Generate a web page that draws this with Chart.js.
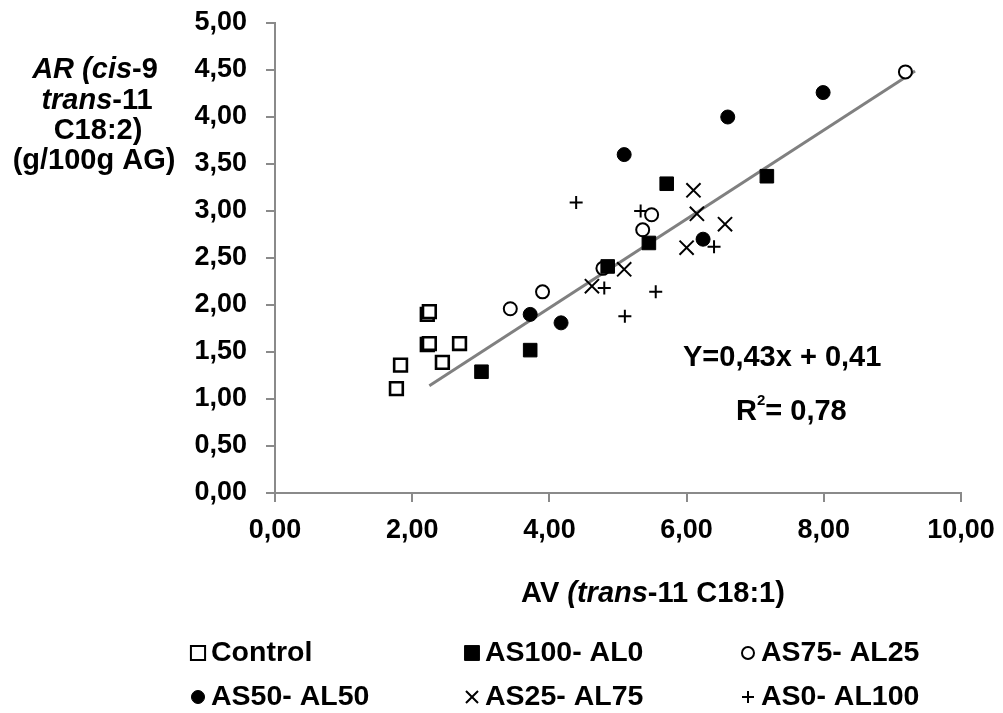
<!DOCTYPE html>
<html>
<head>
<meta charset="utf-8">
<script src="https://cdn.jsdelivr.net/npm/chart.js@4.4.0/dist/chart.umd.min.js"></script>
<style>
  body { margin: 0; background: #fff; }
  #wrap { width: 1003px; height: 713px; }
</style>
</head>
<body>
<div id="wrap"><canvas id="chart"></canvas></div>
<script>
// series (x = AV, y = AR)
const controlX = [1.77, 1.83, 2.22, 2.25, 2.22, 2.25, 2.44, 2.69];
const controlY = [1.11, 1.36, 1.90, 1.93, 1.58, 1.59, 1.39, 1.59];
const as100X = [3.01, 3.72, 4.85, 5.45, 5.71, 7.17];
const as100Y = [1.29, 1.52, 2.41, 2.66, 3.29, 3.37];
const as75X = [3.43, 3.90, 4.78, 5.36, 5.49, 9.19];
const as75Y = [1.96, 2.14, 2.39, 2.80, 2.96, 4.48];
const as50X = [3.72, 4.17, 5.09, 6.24, 6.60, 7.99];
const as50Y = [1.90, 1.81, 3.60, 2.70, 4.00, 4.26];
const as25X = [4.62, 5.09, 6.00, 6.10, 6.15, 6.56];
const as25Y = [2.20, 2.38, 2.61, 3.22, 2.97, 2.86];
const as0X = [4.39, 4.80, 5.10, 5.33, 5.55, 6.40];
const as0Y = [3.09, 2.18, 1.88, 3.00, 2.14, 2.62];
// trend line ends as drawn
const trendX = [2.25, 9.33];
const trendY = [1.14, 4.49];

const seriesLabels = ['Control', 'AS100- AL0', 'AS75- AL25', 'AS50- AL50', 'AS25- AL75', 'AS0- AL100'];
const xTicks = [0, 2, 4, 6, 8, 10];

const FONT = '"Liberation Sans", Arial, sans-serif';
const AXIS_GREY = '#8a8a8a';

function pts(xs, ys) {
    return xs.map((x, i) => ({ x: x, y: ys[i] }));
}

function fmt(v) {
    return Number(v).toFixed(2).replace('.', ',');
}

// draws text made of pieces with different fonts, centred on cx
function richText(ctx, parts, cx, cy) {
    let total = 0;
    parts.forEach(p => { ctx.font = p.font; total += ctx.measureText(p.text).width; });
    let x = cx - total / 2;
    ctx.textBaseline = 'middle';
    ctx.textAlign = 'left';
    parts.forEach(p => {
        ctx.font = p.font;
        ctx.fillText(p.text, x, cy);
        x += ctx.measureText(p.text).width;
    });
}

const B = 'bold 29px ' + FONT;
const BI = 'italic bold 29px ' + FONT;

const extras = {
    id: 'extras',
    afterDraw(chart) {
        const ctx = chart.ctx;
        ctx.save();
        ctx.fillStyle = '#000';

        // y title
        richText(ctx, [{ text: 'AR (cis', font: BI }, { text: '-9', font: B }], 95, 70);
        richText(ctx, [{ text: 'trans', font: BI }, { text: '-11', font: B }], 97, 101);
        richText(ctx, [{ text: 'C18:2)', font: B }], 98, 131);
        richText(ctx, [{ text: '(g/100g AG)', font: B }], 94, 161);

        // x title
        richText(ctx, [
            { text: 'AV ', font: B },
            { text: '(trans', font: BI },
            { text: '-11 C18:1)', font: B }
        ], 653, 594);

        // equation
        ctx.font = 'bold 29px ' + FONT;
        ctx.textAlign = 'left';
        ctx.textBaseline = 'middle';
        ctx.fillText('Y=0,43x + 0,41', 683, 358);
        ctx.fillText('R', 736, 412);
        const rw = ctx.measureText('R').width;
        ctx.font = 'bold 15px ' + FONT;
        ctx.fillText('2', 736 + rw, 401);
        const sw = ctx.measureText('2').width;
        ctx.font = 'bold 29px ' + FONT;
        ctx.fillText('= 0,78', 736 + rw + sw, 412);

        // legend, 3 columns x 2 rows
        const colX = [211, 485, 761];
        const rowY = [653, 697];
        chart.data.datasets.forEach((ds, i) => {
            if (ds.type === 'line') return;
            const tx = colX[i % 3];
            const ty = rowY[Math.floor(i / 3)];
            const style = {
                pointStyle: ds.pointStyle,
                radius: ds.legendRadius,
                borderWidth: ds.borderWidth > 2 ? 2 : ds.borderWidth,
                rotation: 0
            };
            ctx.fillStyle = ds.backgroundColor;
            ctx.strokeStyle = ds.borderColor;
            ctx.lineWidth = style.borderWidth;
            Chart.helpers.drawPoint(ctx, style, tx - 13, ty);
            ctx.fillStyle = '#000';
            ctx.font = 'bold 28.5px ' + FONT;
            ctx.textAlign = 'left';
            ctx.textBaseline = 'middle';
            ctx.fillText(ds.label, tx, ty);
        });
        ctx.restore();
    }
};

const ctx = document.getElementById('chart').getContext('2d');
new Chart(ctx, {
    type: 'scatter',
    data: {
        datasets: [
            { label: seriesLabels[0], data: pts(controlX, controlY), pointStyle: 'rect', pointRadius: 9,
              backgroundColor: '#fff', borderColor: '#000', borderWidth: 2.6, legendRadius: 10, order: 1 },
            { label: seriesLabels[1], data: pts(as100X, as100Y), pointStyle: 'rect', pointRadius: 9.6,
              backgroundColor: '#000', borderColor: '#000', borderWidth: 1, legendRadius: 10.5, order: 1 },
            { label: seriesLabels[2], data: pts(as75X, as75Y), pointStyle: 'circle', pointRadius: 6.5,
              backgroundColor: '#fff', borderColor: '#000', borderWidth: 2, legendRadius: 6, order: 1 },
            { label: seriesLabels[3], data: pts(as50X, as50Y), pointStyle: 'circle', pointRadius: 7,
              backgroundColor: '#000', borderColor: '#000', borderWidth: 1, legendRadius: 6.5, order: 1 },
            { label: seriesLabels[4], data: pts(as25X, as25Y), pointStyle: 'crossRot', pointRadius: 10,
              backgroundColor: '#000', borderColor: '#000', borderWidth: 2, legendRadius: 8.5, order: 1 },
            { label: seriesLabels[5], data: pts(as0X, as0Y), pointStyle: 'cross', pointRadius: 6.5,
              backgroundColor: '#000', borderColor: '#000', borderWidth: 2, legendRadius: 6, order: 1 },
            { type: 'line', label: 'trend', data: pts(trendX, trendY), borderColor: '#808080',
              borderWidth: 3, pointRadius: 0, fill: false, order: 10 }
        ]
    },
    options: {
        responsive: true,
        maintainAspectRatio: false,
        animation: false,
        events: [],
        layout: { padding: { left: 0, right: 42, top: 23, bottom: 0 } },
        plugins: {
            legend: { display: false },
            tooltip: { enabled: false }
        },
        scales: {
            x: {
                type: 'linear',
                min: 0,
                max: 10,
                afterFit: s => { s.height = 220; s.paddingLeft = 0; s.paddingRight = 0; },
                afterBuildTicks: s => { s.ticks = xTicks.map(v => ({ value: v })); },
                grid: { drawOnChartArea: false, color: AXIS_GREY, lineWidth: 2, tickLength: 9 },
                border: { color: AXIS_GREY, width: 2 },
                ticks: {
                    padding: 12,
                    color: '#000',
                    font: { family: FONT, size: 27, weight: 'bold' },
                    callback: v => fmt(v)
                }
            },
            y: {
                type: 'linear',
                min: 0,
                max: 5,
                afterFit: s => { s.width = 275; s.paddingTop = 0; s.paddingBottom = 0; },
                grid: { drawOnChartArea: false, color: AXIS_GREY, lineWidth: 2, tickLength: 9 },
                border: { color: AXIS_GREY, width: 2 },
                ticks: {
                    stepSize: 0.5,
                    padding: 19,
                    color: '#000',
                    font: { family: FONT, size: 27, weight: 'bold' },
                    callback: v => fmt(v)
                }
            }
        }
    },
    plugins: [extras]
});
</script>
</body>
</html>
